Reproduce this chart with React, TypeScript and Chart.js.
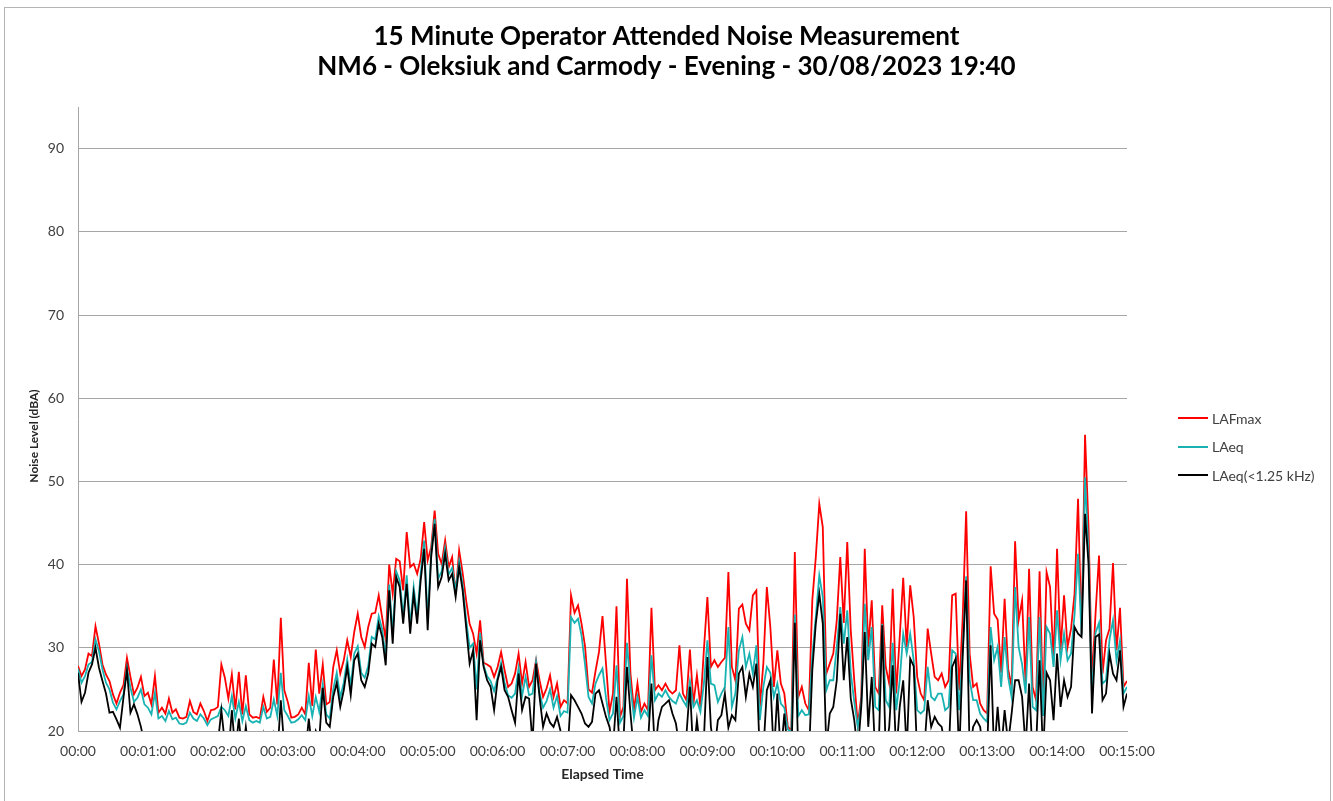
import React, { useEffect, useRef } from "react";
import { Chart, registerables } from "chart.js";

Chart.register(...registerables);

// ---- data (one value every STEP_SECONDS seconds, 00:00 .. 00:15:00) ----
const STEP_SECONDS = 3;

const TITLE_LINES = [
  "15 Minute Operator Attended Noise Measurement",
  "NM6 - Oleksiuk and Carmody - Evening - 30/08/2023 19:40",
];

const X_TITLE = "Elapsed Time";
const Y_TITLE = "Noise Level (dBA)";

const X_TICK_LABELS = [
  "00:00", "00:01:00", "00:02:00", "00:03:00", "00:04:00", "00:05:00", "00:06:00", "00:07:00",
  "00:08:00", "00:09:00", "00:10:00", "00:11:00", "00:12:00", "00:13:00", "00:14:00", "00:15:00",
];

const Y_TICKS = [20, 30, 40, 50, 60, 70, 80, 90];

const SERIES_NAMES = ["LAFmax", "LAeq", "LAeq(<1.25 kHz)"];

const LAFMAX = [
  27.8, 26.6, 27.4, 29.3, 29.0, 32.6, 30.5, 28.0, 26.8, 26.0,
  24.4, 23.3, 24.6, 25.5, 28.8, 26.5, 24.4, 25.2, 26.5, 24.2,
  24.6, 23.2, 26.6, 22.2, 22.8, 22.1, 23.9, 22.2, 22.6, 21.6,
  21.5, 21.7, 23.6, 22.3, 22.0, 23.3, 22.4, 21.2, 22.5, 22.6,
  22.9, 28.0, 26.4, 23.9, 26.8, 22.6, 27.1, 22.0, 26.7, 22.0,
  21.6, 21.7, 21.5, 24.1, 22.3, 22.8, 28.6, 23.2, 33.6, 24.9,
  23.5, 21.6, 21.7, 22.0, 22.8, 22.0, 28.2, 23.0, 29.8, 24.5,
  28.0, 23.2, 23.5, 27.7, 29.7, 26.9, 28.5, 30.9, 28.9, 31.9,
  34.1, 31.3, 30.1, 32.5, 34.1, 34.2, 36.3, 33.6, 31.0, 40.0,
  36.5, 40.7, 40.4, 36.9, 43.9, 39.7, 40.1, 38.9, 40.7, 45.1,
  40.5, 42.1, 46.5, 41.3, 40.1, 42.9, 39.7, 40.9, 36.5, 41.7,
  39.0, 35.7, 32.9, 31.7, 29.3, 33.3, 28.2, 28.0, 27.7, 26.5,
  27.7, 29.5, 27.3, 25.3, 25.7, 26.9, 29.3, 25.7, 28.3, 25.3,
  26.1, 28.5, 26.1, 24.1, 25.1, 26.7, 24.1, 25.7, 22.9, 23.7,
  23.3, 36.3, 34.2, 35.1, 32.9, 30.2, 25.0, 24.6, 27.2, 29.5,
  33.8, 28.1, 22.3, 24.5, 35.0, 21.7, 22.9, 38.3, 26.9, 22.5,
  25.7, 22.3, 23.3, 22.5, 34.8, 24.9, 25.5, 24.9, 25.7, 24.9,
  24.5, 24.9, 30.3, 24.5, 23.7, 29.8, 23.3, 26.7, 22.9, 29.8,
  36.1, 27.7, 28.5, 27.7, 28.3, 28.8, 39.1, 27.7, 26.1, 34.7,
  35.2, 32.9, 32.1, 36.3, 36.9, 22.9, 28.1, 37.3, 32.5, 25.3,
  29.7, 25.7, 24.5, 20.5, 20.1, 41.5, 24.1, 25.3, 23.3, 22.5,
  35.7, 40.9, 47.3, 44.5, 26.9, 28.1, 29.3, 33.3, 40.9, 33.0,
  42.7, 32.1, 26.1, 20.8, 24.1, 41.9, 30.1, 35.7, 25.3, 24.5,
  35.1, 27.7, 25.7, 37.1, 24.5, 31.3, 38.4, 30.1, 37.5, 33.7,
  26.5, 24.5, 23.7, 32.3, 29.3, 26.5, 26.1, 26.9, 25.3, 26.1,
  36.3, 36.5, 24.9, 33.5, 46.4, 29.3, 25.3, 25.7, 23.3, 22.5,
  22.1, 39.8, 34.1, 33.4, 27.0, 35.9, 27.5, 25.3, 42.8, 33.3,
  35.7, 25.7, 39.5, 25.3, 23.7, 39.2, 22.9, 39.1, 37.3, 28.5,
  41.9, 29.7, 36.3, 30.1, 32.3, 36.5, 47.9, 31.7, 55.6, 44.5,
  26.1, 34.1, 41.1, 26.9, 30.9, 32.3, 40.2, 29.7, 34.8, 25.3,
  26.0,
];

const LAEQ = [
  27.5, 25.8, 26.6, 28.0, 28.3, 31.0, 29.6, 27.4, 25.8, 25.0,
  23.4, 22.6, 23.6, 24.4, 27.6, 25.2, 23.5, 24.0, 25.0, 23.2,
  22.8, 22.0, 24.6, 21.5, 21.8, 21.2, 22.4, 21.4, 21.6, 20.9,
  20.8, 21.0, 22.2, 21.5, 21.2, 22.0, 21.5, 20.7, 21.4, 21.6,
  21.8, 22.9, 22.5, 21.8, 24.2, 21.5, 23.5, 21.2, 23.0, 21.3,
  21.0, 21.2, 21.0, 22.9, 21.5, 21.7, 23.8, 21.8, 27.0, 22.5,
  21.8, 21.0, 21.1, 21.4, 21.9, 21.3, 24.2, 21.8, 24.1, 22.3,
  25.6, 22.0, 21.5, 25.0, 27.0, 24.0, 25.8, 28.6, 25.4, 29.3,
  30.2, 27.0, 26.4, 27.8, 31.3, 31.0, 33.8, 32.2, 28.8, 37.6,
  31.6, 39.2, 38.1, 33.8, 38.7, 32.7, 37.3, 33.8, 38.9, 42.9,
  33.4, 41.5, 45.5, 38.3, 39.2, 42.0, 38.8, 39.6, 36.8, 40.4,
  37.6, 33.4, 30.0, 30.5, 25.0, 31.8, 27.9, 26.6, 26.0, 24.8,
  26.4, 28.2, 25.8, 24.3, 24.0, 24.5, 27.6, 24.2, 26.5, 24.3,
  24.5, 28.3, 24.6, 22.8, 23.6, 25.0, 22.8, 24.2, 21.8, 22.4,
  22.2, 33.7, 33.0, 33.5, 31.5, 28.0, 24.1, 23.3, 25.7, 26.7,
  27.5, 24.0, 21.3, 22.1, 27.9, 21.0, 21.8, 30.6, 25.3, 21.6,
  24.1, 21.6, 22.5, 21.8, 29.1, 23.7, 24.5, 24.1, 24.9, 24.1,
  23.6, 23.3, 24.5, 23.7, 23.0, 26.0, 22.9, 23.7, 22.3, 25.7,
  30.9, 25.7, 25.5, 23.5, 24.5, 25.3, 32.5, 22.9, 24.5, 29.7,
  31.3, 27.7, 29.3, 26.9, 30.3, 21.3, 25.3, 27.7, 27.0, 24.1,
  25.7, 23.3, 22.8, 20.2, 19.8, 34.0, 21.8, 22.5, 21.9, 22.0,
  29.0, 33.7, 38.7, 36.1, 24.9, 26.1, 26.1, 30.1, 34.9, 30.5,
  34.5, 27.0, 23.5, 20.5, 23.3, 35.3, 28.5, 32.5, 22.9, 22.5,
  32.9, 23.7, 22.9, 30.6, 22.5, 26.1, 31.7, 29.3, 31.7, 28.5,
  22.5, 22.1, 22.5, 27.7, 24.1, 23.7, 24.5, 24.5, 22.5, 22.9,
  29.7, 29.3, 22.5, 29.5, 38.6, 26.1, 23.7, 23.7, 22.1, 21.5,
  21.1, 32.5, 28.5, 30.1, 25.3, 31.3, 26.5, 24.1, 37.3, 30.1,
  28.0, 24.5, 33.7, 22.9, 22.5, 33.7, 21.8, 32.5, 31.7, 27.7,
  34.5, 28.5, 31.7, 28.5, 29.3, 34.0, 41.3, 31.5, 50.5, 41.3,
  24.1, 31.8, 33.0, 25.7, 26.1, 31.0, 33.3, 28.5, 30.9, 24.5,
  25.3,
];

const LAEQ_LOW = [
  27.0, 23.5, 24.6, 27.0, 28.0, 30.0, 27.6, 26.0, 24.5, 22.2,
  22.3, 21.4, 20.4, 24.0, 27.3, 22.2, 23.2, 22.0, 20.5, 18.5,
  17.5, 18.0, 19.0, 17.0, 17.5, 16.5, 18.0, 17.0, 16.5, 17.0,
  16.0, 17.0, 18.5, 17.0, 18.0, 19.5, 18.0, 16.5, 17.5, 18.0,
  18.5, 22.5, 18.5, 17.0, 22.5, 17.5, 21.5, 17.0, 20.5, 17.0,
  16.5, 17.5, 16.0, 19.5, 17.0, 16.5, 19.5, 17.0, 23.7, 18.0,
  17.0, 16.0, 17.5, 16.5, 18.0, 17.0, 21.5, 17.5, 20.0, 19.0,
  25.2, 21.0, 20.5, 24.1, 25.8, 22.9, 24.9, 27.7, 24.3, 28.5,
  29.3, 26.1, 25.3, 26.9, 30.5, 30.1, 32.9, 31.3, 27.9, 36.9,
  30.5, 38.5, 37.3, 32.9, 37.7, 31.7, 36.5, 32.9, 38.1, 41.9,
  32.1, 40.9, 44.9, 37.3, 38.5, 41.3, 38.1, 38.9, 36.1, 39.7,
  36.9, 32.5, 28.1, 29.7, 21.3, 30.9, 27.7, 26.1, 25.3, 22.5,
  26.1, 27.7, 24.9, 24.1, 22.5, 21.0, 26.9, 22.5, 24.1, 23.9,
  18.5, 28.1, 24.1, 20.5, 22.1, 21.0, 20.5, 21.7, 20.0, 18.5,
  17.5, 24.3, 23.7, 22.9, 22.1, 20.9, 20.5, 21.1, 24.5, 24.9,
  23.3, 21.7, 20.5, 18.0, 24.1, 17.5, 19.0, 27.7, 22.1, 17.5,
  16.5, 18.0, 17.0, 18.5, 25.7, 17.5, 21.3, 22.9, 23.3, 23.7,
  22.1, 20.9, 18.0, 17.0, 19.5, 25.3, 17.0, 21.3, 17.5, 19.0,
  28.9, 20.5, 17.5, 21.3, 21.9, 24.5, 20.4, 21.9, 21.3, 26.9,
  27.7, 24.1, 26.9, 25.3, 28.1, 17.0, 17.5, 24.9, 26.1, 17.0,
  24.5, 17.0, 22.1, 17.5, 16.5, 33.0, 17.0, 16.0, 17.5, 16.5,
  27.3, 32.9, 36.5, 32.9, 18.0, 22.1, 22.9, 26.1, 34.1, 26.1,
  31.3, 23.9, 21.3, 17.5, 22.9, 31.9, 20.5, 26.5, 17.0, 18.0,
  32.7, 17.5, 20.5, 27.9, 17.0, 22.9, 26.1, 17.5, 28.7, 27.8,
  17.0, 16.5, 17.5, 23.7, 20.5, 21.7, 20.9, 20.5, 18.0, 17.0,
  27.7, 28.7, 17.0, 29.0, 38.1, 17.5, 20.5, 21.3, 20.5, 17.0,
  17.5, 30.3, 17.0, 22.9, 17.5, 22.5, 18.5, 22.1, 26.1, 26.1,
  24.1, 18.0, 25.7, 17.0, 18.0, 28.5, 17.0, 27.0, 26.1, 21.3,
  29.3, 22.9, 26.1, 24.1, 25.3, 32.5, 31.7, 31.3, 46.1, 40.1,
  22.1, 31.3, 31.6, 23.7, 24.5, 29.3, 26.9, 26.1, 29.7, 22.9,
  24.5,
];

// ---- styling ----
const FONT = "Lato, 'Open Sans', 'Liberation Sans', sans-serif";
const COLORS = ["#ff0000", "#19b2b2", "#000000"];
const GRID = "#a6a6a6";
const TEXT = "#404040";

const toPoints = (arr: number[]) => arr.map((y, i) => ({ x: i * STEP_SECONDS, y }));

// draws the rotated y-axis title at the place Excel puts it
const yTitlePlugin = {
  id: "yTitleExcel",
  afterDraw(chart: any) {
    const { ctx } = chart;
    ctx.save();
    ctx.translate(34, 436);
    ctx.rotate(-Math.PI / 2);
    ctx.font = `bold 12px ${FONT}`;
    ctx.fillStyle = "#262626";
    ctx.textAlign = "center";
    ctx.textBaseline = "middle";
    ctx.fillText(Y_TITLE, 0, 0);
    ctx.restore();
  },
};

export default function App() {
  const canvasRef = useRef<HTMLCanvasElement | null>(null);

  useEffect(() => {
    if (!canvasRef.current) return;
    const series = [LAFMAX, LAEQ, LAEQ_LOW];
    const chart = new Chart(canvasRef.current, {
      type: "line",
      data: {
        datasets: series.map((arr, k) => ({
          label: SERIES_NAMES[k],
          data: toPoints(arr),
          borderColor: COLORS[k],
          backgroundColor: COLORS[k],
          borderWidth: 1.8,
          pointRadius: 0,
          tension: 0,
          order: 3 - k,
        })),
      },
      plugins: [yTitlePlugin],
      options: {
        responsive: false,
        animation: false,
        events: [],
        layout: { padding: 0 },
        plugins: {
          legend: { display: false },
          tooltip: { enabled: false },
          title: {
            display: true,
            text: TITLE_LINES,
            color: "#000000",
            font: { family: FONT, size: 26, weight: "bold", lineHeight: 1.154 },
            padding: { top: 22, bottom: 25 },
          },
        },
        scales: {
          x: {
            type: "linear",
            min: 0,
            max: (X_TICK_LABELS.length - 1) * 60,
            afterFit: (scale: any) => {
              scale.height = 70;
            },
            afterBuildTicks: (scale: any) => {
              scale.ticks = X_TICK_LABELS.map((_, i) => ({ value: i * 60 }));
            },
            ticks: {
              autoSkip: false,
              maxRotation: 0,
              padding: 12,
              color: TEXT,
              font: { family: FONT, size: 14 },
              callback: (v: any) => X_TICK_LABELS[Math.round(Number(v) / 60)],
            },
            grid: { display: false, drawTicks: false },
            border: { display: true, color: GRID, width: 1 },
            title: {
              display: true,
              text: X_TITLE,
              color: "#262626",
              font: { family: FONT, size: 14, weight: "bold" },
              padding: { top: 0, bottom: 18 },
            },
          },
          y: {
            type: "linear",
            min: 20,
            max: 95,
            afterFit: (scale: any) => {
              scale.width = 78;
            },
            afterBuildTicks: (scale: any) => {
              scale.ticks = Y_TICKS.map((v) => ({ value: v }));
            },
            ticks: {
              padding: 14,
              color: TEXT,
              font: { family: FONT, size: 14 },
            },
            grid: { color: GRID, lineWidth: 1, drawTicks: false },
            border: { display: true, color: GRID, width: 1 },
            title: { display: false },
          },
          // empty right-hand box that reserves the space used by the legend
          legendSpace: {
            type: "linear",
            position: "right",
            display: true,
            afterFit: (scale: any) => {
              scale.width = 206;
            },
            ticks: { display: false },
            grid: { display: false, drawTicks: false },
            border: { display: false },
          },
        },
      },
    });
    return () => chart.destroy();
  }, []);

  const legendTop = [418, 446.5, 475];

  return (
    <div style={{ position: "fixed", left: 0, top: 0, width: 1333, height: 801, background: "#fff", overflow: "hidden" }}>
      <canvas ref={canvasRef} width={1333} height={801} style={{ position: "absolute", left: 0, top: 0, width: 1333, height: 801 }} />
      <div
        style={{
          position: "absolute",
          left: 4,
          top: 7,
          width: 1325,
          height: 820,
          border: "1px solid #b4b4b4",
          pointerEvents: "none",
        }}
      />
      {SERIES_NAMES.map((name, k) => (
        <div
          key={name}
          style={{
            position: "absolute",
            left: 1178,
            top: legendTop[k] - 10,
            height: 20,
            display: "flex",
            alignItems: "center",
            fontFamily: FONT,
            fontSize: 14,
            color: TEXT,
            whiteSpace: "nowrap",
          }}
        >
          <span style={{ display: "inline-block", width: 30, height: 2, background: COLORS[k], marginRight: 4 }} />
          <span>{name}</span>
        </div>
      ))}
    </div>
  );
}
